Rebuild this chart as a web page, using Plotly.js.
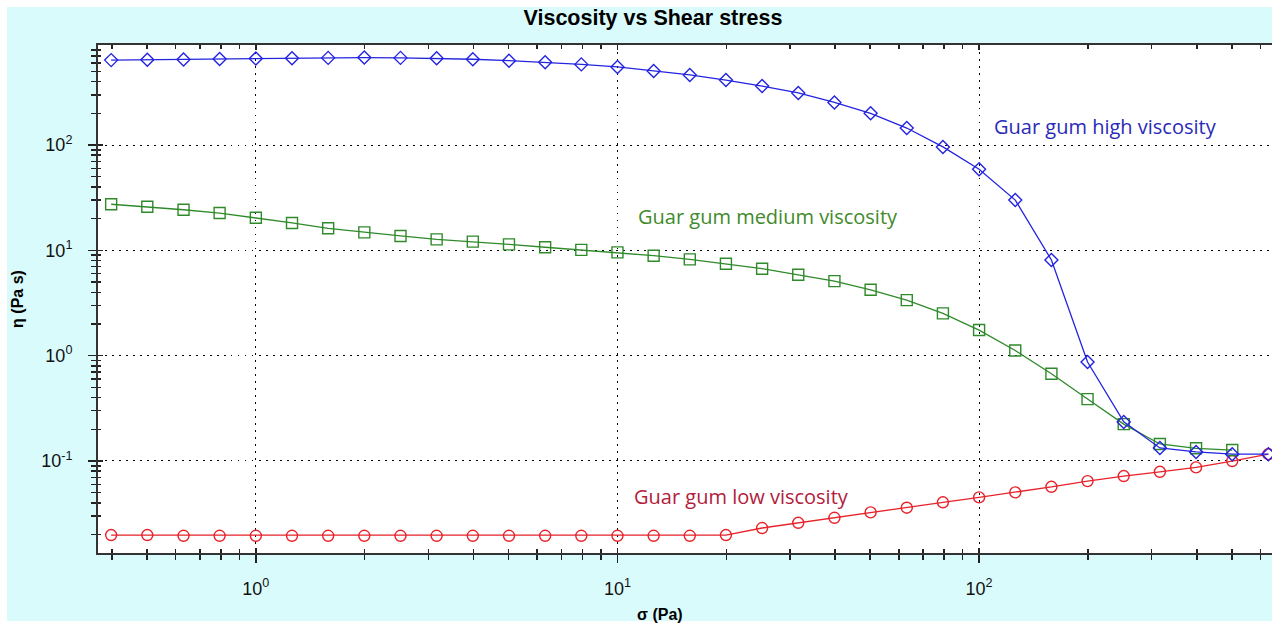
<!DOCTYPE html>
<html>
<head>
<meta charset="utf-8">
<script src="https://cdn.plot.ly/plotly-3.0.1.min.js"></script>
<style>html,body{margin:0;padding:0;background:#fff;}#chart{width:1272px;height:626px;}</style>
</head>
<body>
<div id="chart"></div>
<script>
// Shear stress σ (Pa)
const shearStress = [0.398, 0.501, 0.631, 0.794, 1, 1.259, 1.585, 1.995, 2.512, 3.162, 3.981,
  5.012, 6.31, 7.943, 10, 12.59, 15.85, 19.95, 25.12, 31.62, 39.81, 50.12, 63.1, 79.43,
  100, 125.9, 158.5, 199.5, 251.2, 316.2, 398.1, 501.2, 631];

// Viscosity η (Pa s)
const highViscosity = [640, 645, 650, 655, 662, 668, 672, 676, 672, 665, 652, 632, 610, 583,
  551, 505, 463, 414, 363, 312, 254, 200, 145, 96, 59, 30, 8.1, 0.87, 0.235, 0.133, 0.122,
  0.116, 0.116];
const mediumViscosity = [27.4, 25.9, 24.3, 22.6, 20.4, 18.2, 16.2, 14.8, 13.7, 12.7, 12.1,
  11.4, 10.7, 10.1, 9.57, 8.89, 8.2, 7.46, 6.69, 5.86, 5.1, 4.22, 3.37, 2.52, 1.75, 1.12,
  0.673, 0.387, 0.224, 0.145, 0.132, 0.127];
const lowViscosity = [0.0198, 0.0198, 0.0195, 0.0195, 0.0195, 0.0195, 0.0195, 0.0195, 0.0195,
  0.0195, 0.0195, 0.0195, 0.0195, 0.0195, 0.0195, 0.0195, 0.0195, 0.0198, 0.0231, 0.0259,
  0.0289, 0.0325, 0.036, 0.0405, 0.0451, 0.0503, 0.0569, 0.0644, 0.0719, 0.0789, 0.0869,
  0.0998, 0.116];

const seriesNames = ['Guar gum low viscosity', 'Guar gum medium viscosity', 'Guar gum high viscosity'];

const xTickVals = [1, 10, 100];
const xTickText = ['10<sup>0</sup>', '10<sup>1</sup>', '10<sup>2</sup>'];
const yTickVals = [0.1, 1, 10, 100];
const yTickText = ['10<sup>-1</sup>', '10<sup>0</sup>', '10<sup>1</sup>', '10<sup>2</sup>'];

function minorTicks(fromExp, toExp) {
  const out = [];
  for (let e = fromExp; e <= toExp; e++) {
    for (let m = 2; m <= 9; m++) out.push(m * Math.pow(10, e));
  }
  return out;
}

const BLUE = '#2424e0', GREEN = '#2f8a2a', RED = '#e8222a';
const CYAN = '#dafbfc';
const X_RANGE = [-0.4365, 2.81];
const Y_RANGE = [-1.8737, 2.9497];
const FONT = 'Liberation Sans, Arial, sans-serif';

const traces = [
  {x: shearStress.slice(0, lowViscosity.length), y: lowViscosity, name: seriesNames[0],
   mode: 'lines+markers', line: {color: RED, width: 1.3},
   marker: {symbol: 'circle-open', size: 11, color: RED, line: {width: 1.4}}},
  {x: shearStress.slice(0, mediumViscosity.length), y: mediumViscosity, name: seriesNames[1],
   mode: 'lines+markers', line: {color: GREEN, width: 1.3},
   marker: {symbol: 'square-open', size: 11, color: GREEN, line: {width: 1.4}}},
  {x: shearStress.slice(0, highViscosity.length), y: highViscosity, name: seriesNames[2],
   mode: 'lines+markers', line: {color: BLUE, width: 1.3},
   marker: {symbol: 'diamond-open', size: 10, color: BLUE, line: {width: 1.4}}},
  // empty trace so the overlay axes (inner tick marks) get drawn
  {x: [], y: [], xaxis: 'x2', yaxis: 'y2', type: 'scatter', mode: 'markers', showlegend: false,
   hoverinfo: 'skip'}
];

const axisCommon = {
  type: 'log',
  tickmode: 'array',
  showline: true, linecolor: '#333', linewidth: 2,
  ticks: 'outside', ticklen: 8, tickwidth: 1.5, tickcolor: '#222',
  showgrid: true, gridcolor: '#000', gridwidth: 1, griddash: '1.5px,5.5px',
  zeroline: false,
  tickfont: {family: FONT, size: 18, color: '#111'}
};

const innerCommon = {
  type: 'log', tickmode: 'array', showline: false, showgrid: false, zeroline: false,
  showticklabels: false, ticks: 'inside', ticklen: 5, tickwidth: 1.5, tickcolor: '#222'
};

const layout = {
  width: 1272, height: 626,
  margin: {l: 98, r: 0, t: 45, b: 73},
  paper_bgcolor: '#ffffff',
  plot_bgcolor: '#ffffff',
  showlegend: false,
  title: {text: '<b>Viscosity vs Shear stress</b>', x: 653 / 1272, xanchor: 'center',
          y: 1 - 17 / 626, yanchor: 'middle',
          font: {family: FONT, size: 21.5, color: '#000'}},
  xaxis: Object.assign({}, axisCommon, {
    range: X_RANGE,
    tickvals: xTickVals, ticktext: xTickText,
    ticklabelstandoff: 10,
    minor: {tickmode: 'array', tickvals: minorTicks(-1, 2), ticks: 'outside', ticklen: 5,
            tickwidth: 1.5, tickcolor: '#222', showgrid: false}
  }),
  yaxis: Object.assign({}, axisCommon, {
    range: Y_RANGE,
    tickvals: yTickVals, ticktext: yTickText,
    ticklabelstandoff: 12,
    title: {text: '<b>η (Pa s)</b>', standoff: 14,
            font: {family: FONT, size: 16, color: '#000'}},
    minor: {tickmode: 'array', tickvals: minorTicks(-2, 2), ticks: 'outside', ticklen: 5,
            tickwidth: 1.5, tickcolor: '#222', showgrid: false}
  }),
  xaxis2: Object.assign({}, innerCommon, {
    overlaying: 'x', anchor: 'y2', side: 'bottom', range: X_RANGE, mirror: 'ticks',
    showline: true, linecolor: '#333', linewidth: 2,
    tickvals: xTickVals, ticktext: xTickText,
    minor: {tickmode: 'array', tickvals: minorTicks(-1, 2), ticks: 'inside', ticklen: 4,
            tickwidth: 1.5, tickcolor: '#222', showgrid: false}
  }),
  yaxis2: Object.assign({}, innerCommon, {
    overlaying: 'y', anchor: 'x2', side: 'left', range: Y_RANGE,
    tickvals: yTickVals, ticktext: yTickText,
    minor: {tickmode: 'array', tickvals: minorTicks(-2, 2), ticks: 'inside', ticklen: 3,
            tickwidth: 1.5, tickcolor: '#222', showgrid: false}
  }),
  shapes: [
    {type: 'rect', xref: 'paper', yref: 'paper', layer: 'below',
     x0: (7 - 98) / 1174, x1: (1272 - 98) / 1174,
     y0: (626 - 73 - 621) / 508, y1: (626 - 73 - 7) / 508,
     fillcolor: CYAN, line: {width: 0}},
    {type: 'rect', xref: 'paper', yref: 'paper', layer: 'below',
     x0: 0, x1: 1, y0: 0, y1: 1, fillcolor: '#ffffff', line: {width: 0}}
  ],
  annotations: [
    {text: '<b>σ (Pa)</b>', xref: 'paper', yref: 'paper', x: (660 - 98) / 1174, xanchor: 'center',
     y: (626 - 73 - 614) / 508, yanchor: 'middle', showarrow: false,
     font: {family: FONT, size: 16, color: '#000'}},
    {text: seriesNames[2], xref: 'x', yref: 'y', x: 2.036, y: 2.18, xanchor: 'left', yanchor: 'middle',
     showarrow: false, font: {family: 'Open Sans, sans-serif', size: 20, color: '#2a2ab8'}},
    {text: seriesNames[1], xref: 'x', yref: 'y', x: 1.0525, y: 1.326, xanchor: 'left', yanchor: 'middle',
     showarrow: false, font: {family: 'Open Sans, sans-serif', size: 20, color: '#3f8a2c'}},
    {text: seriesNames[0], xref: 'x', yref: 'y', x: 1.0415, y: -1.333, xanchor: 'left', yanchor: 'middle',
     showarrow: false, font: {family: 'Open Sans, sans-serif', size: 20, color: '#b2203c'}}
  ]
};

Plotly.newPlot('chart', traces, layout, {displayModeBar: false, staticPlot: true});
</script>
</body>
</html>
